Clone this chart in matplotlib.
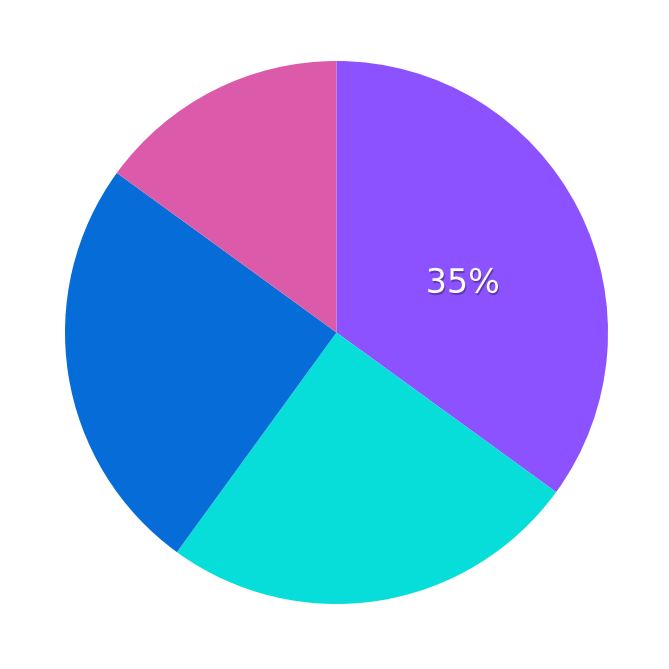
import matplotlib
matplotlib.use("Agg")
import matplotlib.pyplot as plt
import matplotlib.patheffects as pe
import numpy as np

labels = ["A", "B", "C", "D"]
values = [35, 25, 25, 15]
colors = ["#8C52FF", "#07DDD9", "#066DD8", "#DB5BAA"]
shown = [True, False, False, False]

fig = plt.figure(figsize=(6.69, 6.69), dpi=100)
ax = fig.add_axes([0, 0, 1, 1])
wedges, texts = ax.pie(values, colors=colors, startangle=90, counterclock=False,
                       radius=1.0, wedgeprops=dict(linewidth=0))
total = sum(values)
start = 90.0
for v, s in zip(values, shown):
    ang = start - v / total * 360 / 2
    start -= v / total * 360
    if s:
        r = 0.5
        x = r * np.cos(np.radians(ang))
        y = r * np.sin(np.radians(ang))
        ax.text(x + 0.02, y - 0.045, f"{v}%", ha="center", va="center", color="white",
                fontsize=24, family="DejaVu Sans",
                path_effects=[pe.withSimplePatchShadow(offset=(0.8, -1.5), shadow_rgbFace="black", alpha=0.3)])
ax.set_xlim(-1.2394, 1.2247)
ax.set_ylim(-1.2394, 1.2247)
ax.set_aspect("equal")
ax.axis("off")
fig.savefig("out.png", dpi=100)
